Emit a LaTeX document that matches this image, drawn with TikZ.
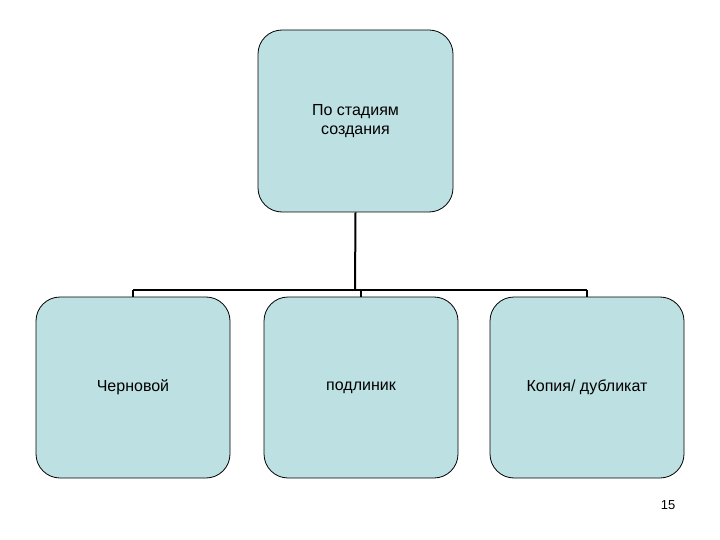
\documentclass[tikz,border=0pt]{standalone}
\usepackage{fontspec}
\setmainfont{Liberation Sans}
\begin{document}
\begin{tikzpicture}[x=1pt,y=-1pt,
  box/.style={draw=black, line width=0.8pt, fill=boxfill, rounded corners=24pt, inner sep=0pt, align=center, font=\fontsize{16}{19}\selectfont},
  conn/.style={draw=black, line width=2pt}]
\definecolor{boxfill}{HTML}{BDE0E2}
\useasboundingbox (0,0) rectangle (720,540);
\node[box, minimum width=195pt, minimum height=182pt] (top) at (355.5,121) {По стадиям\\создания};
\node[box, minimum width=194pt, minimum height=181pt] (a) at (133,387.5) {Черновой};
\node[box, minimum width=194pt, minimum height=181pt] (b) at (361,387.5) {\raisebox{-8pt}{подлиник}};
\node[box, minimum width=194pt, minimum height=181pt] (c) at (587,387.5) {Копия/ дубликат};
\coordinate (j) at (355,290);
\coordinate (ja) at (133,290);
\coordinate (jc) at (587,290);
\draw[conn] (top.south) -- (j);
\draw[conn] (ja) -- (jc);
\draw[conn] (ja) -- (a.north);
\draw[conn] (361,290) -- (b.north);
\draw[conn] (jc) -- (c.north);
\node[font=\fontsize{13}{15}\selectfont] (pg) at (668,505) {15};
\end{tikzpicture}
\end{document}
